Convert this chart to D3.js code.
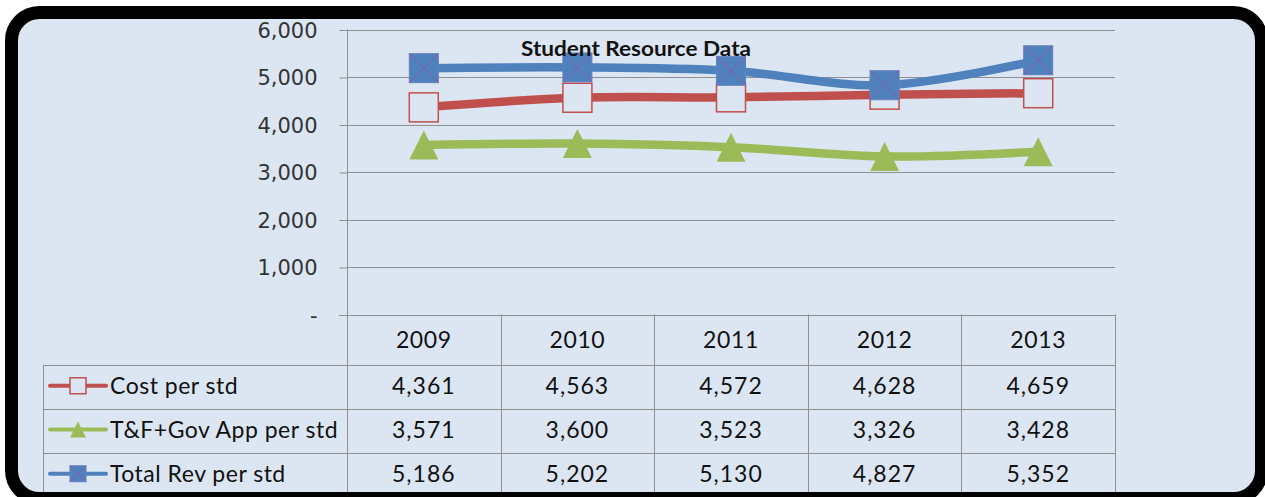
<!DOCTYPE html>
<html><head><meta charset="utf-8">
<script src="https://cdn.jsdelivr.net/npm/d3@7/dist/d3.min.js"></script>
<style>html,body{margin:0;padding:0;background:#fff;overflow:hidden}</style>
</head><body>
<svg id="chart" width="1265" height="497"></svg>
<script>
const years = ["2009","2010","2011","2012","2013"];
const seriesNames = ["Cost per std","T&F+Gov App per std","Total Rev per std"];
const costPerStd = [4361,4563,4572,4628,4659];
const tfGovPerStd = [3571,3600,3523,3326,3428];
const totalRevPerStd = [5186,5202,5130,4827,5352];
const yTicks = [0,1000,2000,3000,4000,5000,6000];
const title = "Student Resource Data";

const series = [
  {name: seriesNames[0], values: costPerStd, color: "#c0504d", marker: "hsquare"},
  {name: seriesNames[1], values: tfGovPerStd, color: "#9bbb59", marker: "triangle"},
  {name: seriesNames[2], values: totalRevPerStd, color: "#4f81bd", marker: "xsquare"}
];

const bg = "#dce6f2";
const svg = d3.select("#chart");
svg.append("rect").attr("x",8).attr("y",9).attr("width",1252).attr("height",492).attr("rx",26).attr("fill",bg);

const pLeft = 347, pRight = 1115, pTop = 29.5, pBottom = 314.5;
const x = d3.scaleBand().domain(years).range([pLeft,pRight]);
const y = d3.scaleLinear().domain([0,6000]).range([pBottom,pTop]);
const grid = "#8f8f8f";

svg.append("g").selectAll("line").data(yTicks.slice(1)).join("line")
  .attr("x1",pLeft).attr("x2",pRight).attr("y1",d=>Math.round(y(d))+0.5).attr("y2",d=>Math.round(y(d))+0.5)
  .attr("stroke",grid).attr("stroke-width",1);

const yAxis = d3.axisLeft(y).tickValues(yTicks).tickSize(8).tickPadding(22)
  .tickFormat(d => d === 0 ? "-" : d3.format(",")(d));
const gy = svg.append("g").attr("transform",`translate(${pLeft+0.5},0.5)`).call(yAxis);
gy.select(".domain").attr("stroke",grid).attr("d",`M0,${pTop-0.5}V${pBottom}`);
gy.selectAll(".tick line").attr("stroke",grid);
gy.selectAll(".tick text").attr("fill","#333").attr("font-family","DejaVu Sans").attr("font-size",21).attr("dy","0.35em");

const rowB = [pBottom, 365, 408.5, 452.5, 497];
const tg = svg.append("g");
tg.append("line").attr("x1",pLeft-8).attr("x2",pRight).attr("y1",Math.round(pBottom)+0.5).attr("y2",Math.round(pBottom)+0.5).attr("stroke",grid);
[rowB[1],rowB[2],rowB[3]].forEach(v=>{
  tg.append("line").attr("x1",43).attr("x2",pRight).attr("y1",Math.round(v)+0.5).attr("y2",Math.round(v)+0.5).attr("stroke",grid);
});
const vx = years.map(yr => x(yr)).concat([pRight]);
vx.forEach(v=>{
  tg.append("line").attr("x1",Math.round(v)+0.5).attr("x2",Math.round(v)+0.5).attr("y1",pBottom).attr("y2",497).attr("stroke",grid);
});
tg.append("line").attr("x1",43.5).attr("x2",43.5).attr("y1",rowB[1]).attr("y2",497).attr("stroke",grid);

const tf = "Lato, 'Open Sans', sans-serif";
tg.selectAll("text.yr").data(years).join("text").attr("class","yr")
  .attr("x",d=>x(d)+x.bandwidth()/2).attr("y",(rowB[0]+rowB[1])/2).attr("dy","0.35em")
  .attr("text-anchor","middle").attr("font-family",tf).attr("font-size",23).attr("letter-spacing",0.6)
  .attr("fill","#111").text(d=>d);

function drawMarker(g, type, cx, cy, s, color){
  if(type==="hsquare"){
    g.append("rect").attr("x",cx-s/2).attr("y",cy-s/2).attr("width",s).attr("height",s)
      .attr("fill",bg).attr("stroke",color).attr("stroke-width",1.5);
  } else if(type==="xsquare"){
    g.append("rect").attr("x",cx-s/2).attr("y",cy-s/2).attr("width",s).attr("height",s)
      .attr("fill",color).attr("stroke","#6a7fc0").attr("stroke-width",1);
    g.append("path").attr("d",`M${cx-s/2},${cy-s/2}L${cx+s/2},${cy+s/2}M${cx+s/2},${cy-s/2}L${cx-s/2},${cy+s/2}`)
      .attr("stroke","#8a5aa8").attr("stroke-width",1);
  } else {
    const h = s;
    g.append("path").attr("d",`M${cx},${cy-h/2}L${cx+s/2},${cy+h/2}L${cx-s/2},${cy+h/2}Z`).attr("fill",color);
  }
}

series.forEach((s,i)=>{
  const r0 = rowB[i+1], r1 = rowB[i+2];
  const cy = (r0+r1)/2 - 1;
  const lg = tg.append("g");
  lg.append("line").attr("x1",50).attr("x2",106).attr("y1",cy).attr("y2",cy).attr("stroke",s.color).attr("stroke-width",4).attr("stroke-linecap","round");
  drawMarker(lg, s.marker, 78, cy, 16, s.color);
  lg.append("text").attr("x",110).attr("y",cy).attr("dy","0.35em").attr("font-family",tf).attr("font-size",23)
    .attr("letter-spacing",0.5).attr("fill","#111").text(s.name);
  tg.selectAll(null).data(s.values).join("text")
    .attr("x",(d,j)=>x(years[j])+x.bandwidth()/2).attr("y",cy).attr("dy","0.35em")
    .attr("text-anchor","middle").attr("font-family",tf).attr("font-size",23).attr("letter-spacing",1)
    .attr("fill","#111").text(d=>d3.format(",")(d));
});

const line = d3.line().x((d,j)=>x(years[j])+x.bandwidth()/2).y(d=>y(d)).curve(d3.curveCardinal.tension(0));
series.forEach(s=>{
  const g = svg.append("g");
  g.append("path").attr("d",line(s.values)).attr("fill","none").attr("stroke",s.color).attr("stroke-width",8.5).attr("stroke-linejoin","round");
  s.values.forEach((v,j)=>drawMarker(g, s.marker, x(years[j])+x.bandwidth()/2, y(v), 29, s.color));
});

svg.append("text").attr("x",636).attr("y",49).attr("dy","0.35em").attr("text-anchor","middle")
  .attr("font-family",tf).attr("font-weight","bold").attr("font-size",20)
  .attr("textLength",230).attr("lengthAdjust","spacingAndGlyphs").attr("fill","#111").text(title);

svg.append("rect").attr("x",11.5).attr("y",12.5).attr("width",1250).attr("height",486).attr("rx",28)
  .attr("fill","none").attr("stroke","#000").attr("stroke-width",13);
</script>
</body></html>
